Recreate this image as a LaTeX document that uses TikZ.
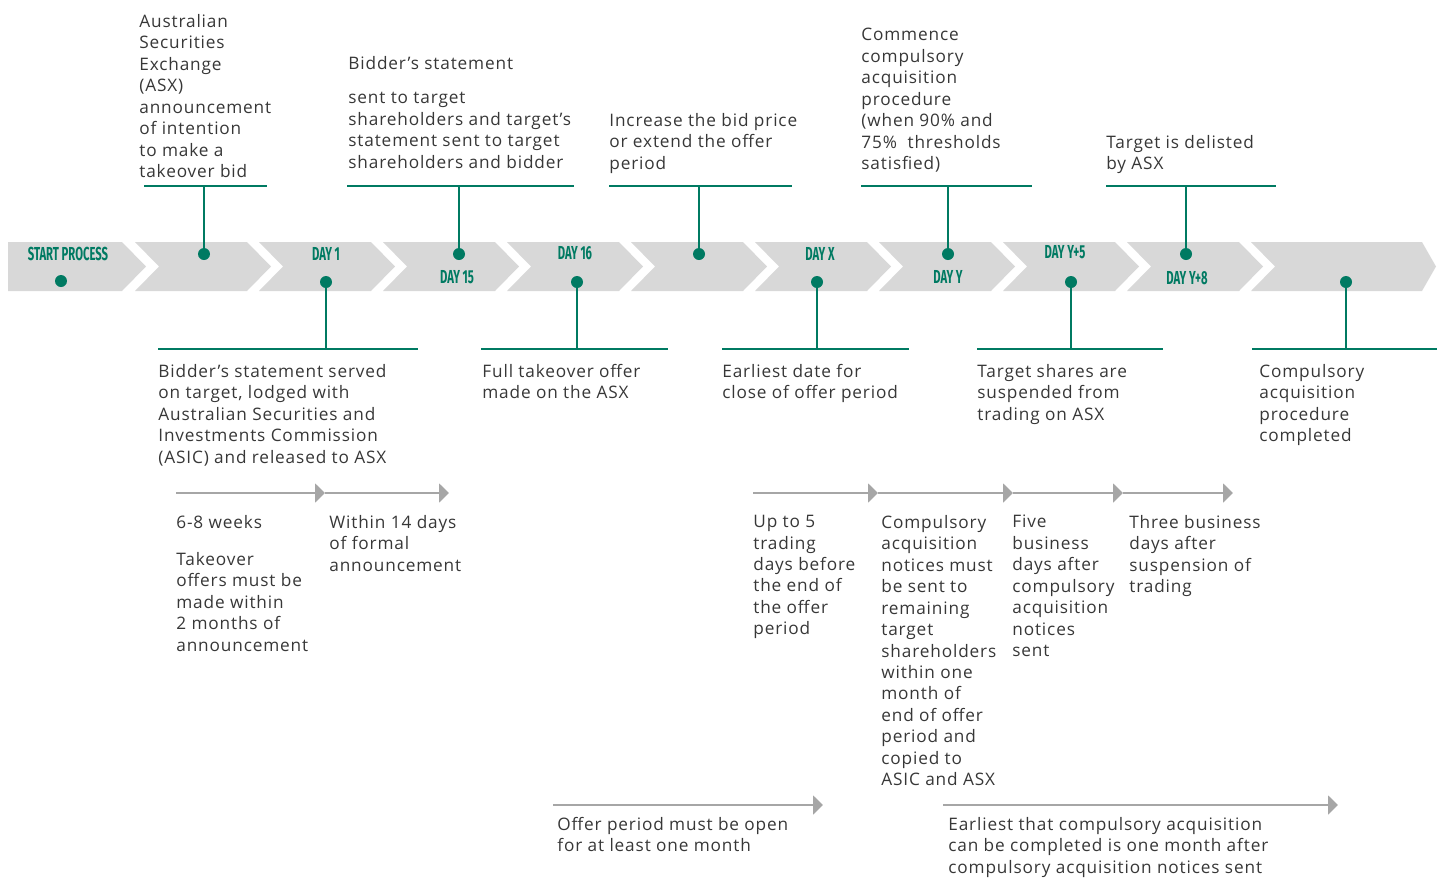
\documentclass[tikz,border=0pt]{standalone}
\usepackage{fontspec}
\setmainfont{Open Sans}[LetterSpace=5]
\newfontfamily\dayfont{Fira Sans}[FakeStretch=0.6]
\usetikzlibrary{arrows.meta}
\definecolor{asxgreen}{RGB}{0,122,98}
\definecolor{chevgrey}{RGB}{216,216,216}
\definecolor{spangrey}{RGB}{166,166,166}
\definecolor{notegrey}{RGB}{55,55,55}

\begin{document}
\begin{tikzpicture}[x=0.02cm,y=-0.02cm,
  note/.style={anchor=north west,inner sep=0pt,align=left,text=notegrey,font=\fontsize{9.8}{12.2}\selectfont},
  daylabel/.style={inner sep=0pt,text=asxgreen,font=\dayfont\bfseries\fontsize{10.7}{12}\selectfont},
  dot/.style={circle,fill=asxgreen,inner sep=0pt,minimum size=0.24cm},
  stem/.style={asxgreen,line width=1.1pt},
  span/.style={spangrey,line width=1.1pt,-{Triangle[length=0.2cm,width=0.38cm]}}]
\useasboundingbox (0,0) rectangle (1445,880);

% chevron band
\fill[chevgrey] (8,242) -- (122,242) -- (146,266.5) -- (122,291) -- (8,291) -- cycle;
\foreach \x in {135,259,383,507,631,755,879,1003,1127}
  \fill[chevgrey] (\x,242) -- ++(112,0) -- ++(24,24.5) -- ++(-24,24.5) -- ++(-112,0) -- ++(24,-24.5) -- cycle;
\fill[chevgrey] (1251,242) -- (1422,242) -- (1436,266.5) -- (1422,291) -- (1251,291) -- (1275,266.5) -- cycle;

\node[daylabel] (lstart) at (68,253.5) {START PROCESS};
\node[daylabel] (lday1) at (326,253.5) {DAY 1};
\node[daylabel] (lday15) at (457,277) {DAY 15};
\node[daylabel] (lday16) at (575,253.5) {DAY 16};
\node[daylabel] (ldayx) at (820,253.5) {DAY X};
\node[daylabel] (ldayy) at (948,277) {DAY Y};
\node[daylabel] (ldayy5) at (1065,252) {DAY Y+5};
\node[daylabel] (ldayy8) at (1187,278) {DAY Y+8};

\node[dot] (p0) at (61,281) {};
\node[dot] (p1) at (204,254) {};
\node[dot] (p2) at (326,282) {};
\node[dot] (p3) at (459,254) {};
\node[dot] (p4) at (577,282) {};
\node[dot] (p5) at (699,254) {};
\node[dot] (p6) at (817,282) {};
\node[dot] (p7) at (948,254) {};
\node[dot] (p8) at (1071,282) {};
\node[dot] (p9) at (1186,254) {};
\node[dot] (p10) at (1346,282) {};

% events above the band
\coordinate (t1) at (204,186);
\coordinate (t3) at (459,186);
\coordinate (t5) at (699,186);
\coordinate (t7) at (948,186);
\coordinate (t9) at (1186,186);
\draw[stem] (144,186) -- (267,186);
\draw[stem] (347,186) -- (574,186);
\draw[stem] (609,186) -- (792,186);
\draw[stem] (861,186) -- (1032,186);
\draw[stem] (1106,186) -- (1276,186);
\draw[stem] (p1) -- (t1);
\draw[stem] (p3) -- (t3);
\draw[stem] (p5) -- (t5);
\draw[stem] (p7) -- (t7);
\draw[stem] (p9) -- (t9);

\node[note] (asx) at (139,14) {Australian\\Securities\\Exchange\\(ASX)\\announcement\\of intention\\to make a\\takeover bid};
\node[note] (bstat) at (348,56) {Bidder’s statement};
\node[note] (sent) at (348,92) {sent to target\\shareholders and target’s\\statement sent to target\\shareholders and bidder};
\node[note] (incr) at (609,113) {Increase the bid price\\or extend the offer\\period};
\node[note] (comm) at (861,28) {Commence\\compulsory\\acquisition\\procedure\\(when 90\% and\\75\%~ thresholds\\satisfied)};
\node[note] (delist) at (1106,135) {Target is delisted\\by ASX};

% events below the band
\coordinate (b2) at (326,349);
\coordinate (b4) at (577,349);
\coordinate (b6) at (817,349);
\coordinate (b8) at (1071,349);
\coordinate (b10) at (1346,349);
\draw[stem] (158,349) -- (418,349);
\draw[stem] (481,349) -- (668,349);
\draw[stem] (722,349) -- (909,349);
\draw[stem] (977,349) -- (1163,349);
\draw[stem] (1252,349) -- (1437,349);
\draw[stem] (p2) -- (b2);
\draw[stem] (p4) -- (b4);
\draw[stem] (p6) -- (b6);
\draw[stem] (p8) -- (b8);
\draw[stem] (p10) -- (b10);

\node[note] (served) at (158,364) {Bidder’s statement served\\on target, lodged with\\Australian Securities and\\Investments Commission\\(ASIC) and released to ASX};
\node[note] (full) at (482,364) {Full takeover offer\\made on the ASX};
\node[note] (early) at (722,364) {Earliest date for\\close of offer period};
\node[note] (susp) at (977,364) {Target shares are\\suspended from\\trading on ASX};
\node[note] (done) at (1259,364) {Compulsory\\acquisition\\procedure\\completed};

% durations
\coordinate (a0) at (176,493);
\coordinate (a1) at (325,493);
\coordinate (a2) at (449,493);
\draw[span] (a0) -- (a1);
\draw[span] (a1) -- (a2);
\coordinate (c0) at (753,493);
\coordinate (c1) at (878,493);
\coordinate (c2) at (1013,493);
\coordinate (c3) at (1123,493);
\coordinate (c4) at (1233,493);
\draw[span] (c0) -- (c1);
\draw[span] (c1) -- (c2);
\draw[span] (c2) -- (c3);
\draw[span] (c3) -- (c4);
\coordinate (e0) at (553,805);
\coordinate (e1) at (823,805);
\coordinate (e2) at (943,805);
\coordinate (e3) at (1338,805);
\draw[span] (e0) -- (e1);
\draw[span] (e2) -- (e3);

\node[note] (weeks) at (176,515) {6-8 weeks};
\node[note] (twomonth) at (176,552) {Takeover\\offers must be\\made within\\2 months of\\announcement};
\node[note] (within14) at (329,515) {Within 14 days\\of formal\\announcement};
\node[note] (upto5) at (753,515) {Up to 5\\trading\\days before\\the end of\\the offer\\period};
\node[note] (notices) at (881,515) {Compulsory\\acquisition\\notices must\\be sent to\\remaining\\target\\shareholders\\within one\\month of\\end of offer\\period and\\copied to\\ASIC and ASX};
\node[note] (five) at (1012,515) {Five\\business\\days after\\compulsory\\acquisition\\notices\\sent};
\node[note] (three) at (1129,515) {Three business\\days after\\suspension of\\trading};
\node[note] (open) at (557,817) {Offer period must be open\\for at least one month};
\node[note] (complete) at (948,817) {Earliest that compulsory acquisition\\can be completed is one month after\\compulsory acquisition notices sent};
\end{tikzpicture}
\end{document}
